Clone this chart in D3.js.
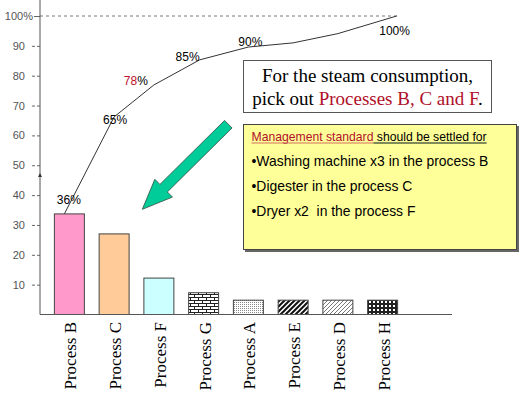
<!DOCTYPE html>
<html><head><meta charset="utf-8">
<script src="https://cdn.jsdelivr.net/npm/d3@7/dist/d3.min.js"></script>
<style>body{margin:0;background:#fff}svg{display:block}</style>
</head><body><svg id="c" width="526" height="398"></svg>
<script>
// ---- data ----
const categories = ["Process B","Process C","Process F","Process G","Process A","Process E","Process D","Process H"];
const barValues = [33.7, 27.0, 12.2, 7.3, 4.8, 4.8, 4.8, 4.8];
const cumulativeValues = [33.7, 66.2, 76.9, 85.3, 89.6, 91.0, 94.1, 100];
const pctLabels = ["36%","65%","78%","85%","90%",null,null,"100%"];
const yTicks = [10,20,30,40,50,60,70,80,90,100];
const fills = ["#FF99CC","#FFCC99","#CCFFFF","url(#brick)","url(#dots)","url(#wdiag)","url(#ldiag)","url(#grid)"];
// style offsets (px) for the drawn cumulative line and labels
const lineDx = [-5,0,-5,-4,0,0,0,14];
const labelOff = [[4.5,-10],[1,7],[-18,0],[-12,1],[2,-1],null,null,[-2,19]];

const svg = d3.select("#c");
const defs = svg.append("defs");
// patterns
let p = defs.append("pattern").attr("id","brick").attr("patternUnits","userSpaceOnUse").attr("width",8).attr("height",6);
p.append("rect").attr("width",8).attr("height",6).attr("fill","#fff");
p.append("path").attr("d","M0,0.5H8M0,3.5H8M2.5,0.5V3.5M6.5,3.5V6.5").attr("stroke","#222").attr("stroke-width",1);
p = defs.append("pattern").attr("id","dots").attr("patternUnits","userSpaceOnUse").attr("width",2).attr("height",2);
p.append("rect").attr("width",2).attr("height",2).attr("fill","#fff");
p.append("rect").attr("width",1).attr("height",1).attr("fill","#888");
p = defs.append("pattern").attr("id","wdiag").attr("patternUnits","userSpaceOnUse").attr("width",5).attr("height",5);
p.append("rect").attr("width",5).attr("height",5).attr("fill","#fff");
p.append("path").attr("d","M-1,6L6,-1M-3,3L3,-3M2,8L8,2").attr("stroke","#111").attr("stroke-width",2);
p = defs.append("pattern").attr("id","ldiag").attr("patternUnits","userSpaceOnUse").attr("width",4).attr("height",4);
p.append("rect").attr("width",4).attr("height",4).attr("fill","#fff");
p.append("path").attr("d","M-1,5L5,-1M-1,1L1,-1M3,5L5,3").attr("stroke","#777").attr("stroke-width",1);
p = defs.append("pattern").attr("id","grid").attr("patternUnits","userSpaceOnUse").attr("width",4).attr("height",4);
p.append("rect").attr("width",4).attr("height",4).attr("fill","#222");
p.append("rect").attr("x",1).attr("y",1).attr("width",2).attr("height",2).attr("fill","#fff");

// scales
const y = d3.scaleLinear().domain([0,100]).range([314.5,16]);
const x = d3.scaleBand().domain(categories).range([47,405]).paddingInner(0.33).paddingOuter(0.165);
const axisX = 40;

// dashed 100% line
svg.append("line").attr("x1",axisX).attr("x2",397).attr("y1",y(100)).attr("y2",y(100))
  .attr("stroke","#777").attr("stroke-dasharray","3,3");

// y axis
const yAxis = d3.axisLeft(y).tickValues(yTicks).tickSize(10).tickPadding(5)
  .tickFormat(d => d===100 ? "100%" : d);
const gy = svg.append("g").attr("transform",`translate(${axisX},0)`).call(yAxis);
gy.select(".domain").remove();
gy.selectAll(".tick line").attr("stroke","#666").attr("stroke-dasharray","3,2");
gy.selectAll(".tick text").attr("font-family","Liberation Sans, Arial, sans-serif").attr("font-size",11).attr("fill","#555");
gy.selectAll(".tick").filter(d=>d===100).select("text").attr("x",-7);
gy.selectAll(".tick").filter(d=>d===100).select("line").attr("x2",-6).attr("stroke-dasharray",null);
svg.append("line").attr("x1",axisX).attr("x2",axisX).attr("y1",0).attr("y2",y(0)).attr("stroke","#555");
svg.append("path").attr("d",`M${axisX-2},177L${axisX},173L${axisX+2},177Z`).attr("fill","#333");

// bars
svg.selectAll("rect.bar").data(categories).join("rect").attr("class","bar")
  .attr("x",d=>x(d)).attr("width",x.bandwidth())
  .attr("y",(d,i)=>y(barValues[i])).attr("height",(d,i)=>y(0)-y(barValues[i]))
  .attr("fill",(d,i)=>fills[i]).attr("stroke","#444").attr("stroke-width",1);

// x axis line
svg.append("line").attr("x1",axisX).attr("x2",452).attr("y1",y(0)).attr("y2",y(0)).attr("stroke","#555");

// x labels
svg.selectAll("text.xl").data(categories).join("text").attr("class","xl")
  .attr("transform",d=>`translate(${x(d)+x.bandwidth()/2+7},322) rotate(-90)`)
  .attr("text-anchor","end").attr("font-family","Liberation Serif, Times New Roman, serif").attr("font-size",17)
  .attr("fill","#000").text(d=>d);

// cumulative line
const lx = (d,i)=>x(d)+x.bandwidth()/2+lineDx[i];
svg.append("path").datum(categories)
  .attr("d",d3.line().x((d,i)=>lx(d,i)).y((d,i)=>y(cumulativeValues[i])))
  .attr("fill","none").attr("stroke","#333").attr("stroke-width",1);

// percent labels
categories.forEach((c,i)=>{
  if(!pctLabels[i]) return;
  const t = svg.append("text").attr("x",lx(c,i)+labelOff[i][0]).attr("y",y(cumulativeValues[i])+labelOff[i][1])
    .attr("text-anchor","middle").attr("font-family","Liberation Sans, Arial, sans-serif").attr("font-size",12).attr("fill","#000");
  if(pctLabels[i]==="78%"){
    t.append("tspan").attr("fill","#C0102A").text("78");
    t.append("tspan").text("%");
  } else t.text(pctLabels[i]);
});

// green arrow
svg.append("polygon")
  .attr("points",[[0,0],[-30,-12.5],[-30,-5.3],[-121,-5.3],[-121,5.3],[-30,5.3],[-30,12.5]].map(q=>q.join(",")).join(" "))
  .attr("transform","translate(142.3,209.3) rotate(135.3)")
  .attr("fill","#00CC99").attr("stroke","#335544").attr("stroke-width",0.8);

// text box 1
svg.append("rect").attr("x",243.5).attr("y",60.5).attr("width",248).attr("height",52).attr("fill","#fff").attr("stroke","#555");
const serif = "Liberation Serif, Times New Roman, serif";
svg.append("text").attr("x",367.5).attr("y",82).attr("text-anchor","middle").attr("font-family",serif).attr("font-size",19)
  .text("For the steam consumption,");
const t2 = svg.append("text").attr("x",367.5).attr("y",105).attr("text-anchor","middle").attr("font-family",serif).attr("font-size",19);
t2.append("tspan").text("pick out ");
t2.append("tspan").attr("fill","#B0102A").text("Processes B, C and F");
t2.append("tspan").text(".");

// yellow box
svg.append("rect").attr("x",245).attr("y",126).attr("width",274).attr("height",126).attr("fill","#666");
svg.append("rect").attr("x",243.5).attr("y",124.5).attr("width",273).attr("height",125).attr("fill","#FFFF99").attr("stroke","#444");
const sans = "Liberation Sans, Arial, sans-serif";
const m = svg.append("text").attr("x",251.5).attr("y",140.5).attr("font-family",sans).attr("font-size",12.2);
const m1 = m.append("tspan").attr("fill","#B0102A").text("Management standard");
const m2 = m.append("tspan").attr("fill","#000").text(" should be settled for");
const w1 = m1.node().getComputedTextLength(), w2 = m2.node().getComputedTextLength();
svg.append("line").attr("x1",251.5).attr("x2",251.5+w1).attr("y1",143).attr("y2",143).attr("stroke","#D07060").attr("stroke-width",1.2);
svg.append("line").attr("x1",251.5+w1).attr("x2",251.5+w1+w2).attr("y1",143).attr("y2",143).attr("stroke","#556644").attr("stroke-width",1.5);
const bullets = ["•Washing machine x3 in the process B","•Digester in the process C","•Dryer x2  in the process F"];
svg.selectAll("text.bl").data(bullets).join("text").attr("class","bl")
  .attr("x",251.5).attr("y",(d,i)=>166+i*25).attr("font-family",sans).attr("font-size",13.9)
  .attr("xml:space","preserve").style("white-space","pre").text(d=>d);
</script></body></html>
